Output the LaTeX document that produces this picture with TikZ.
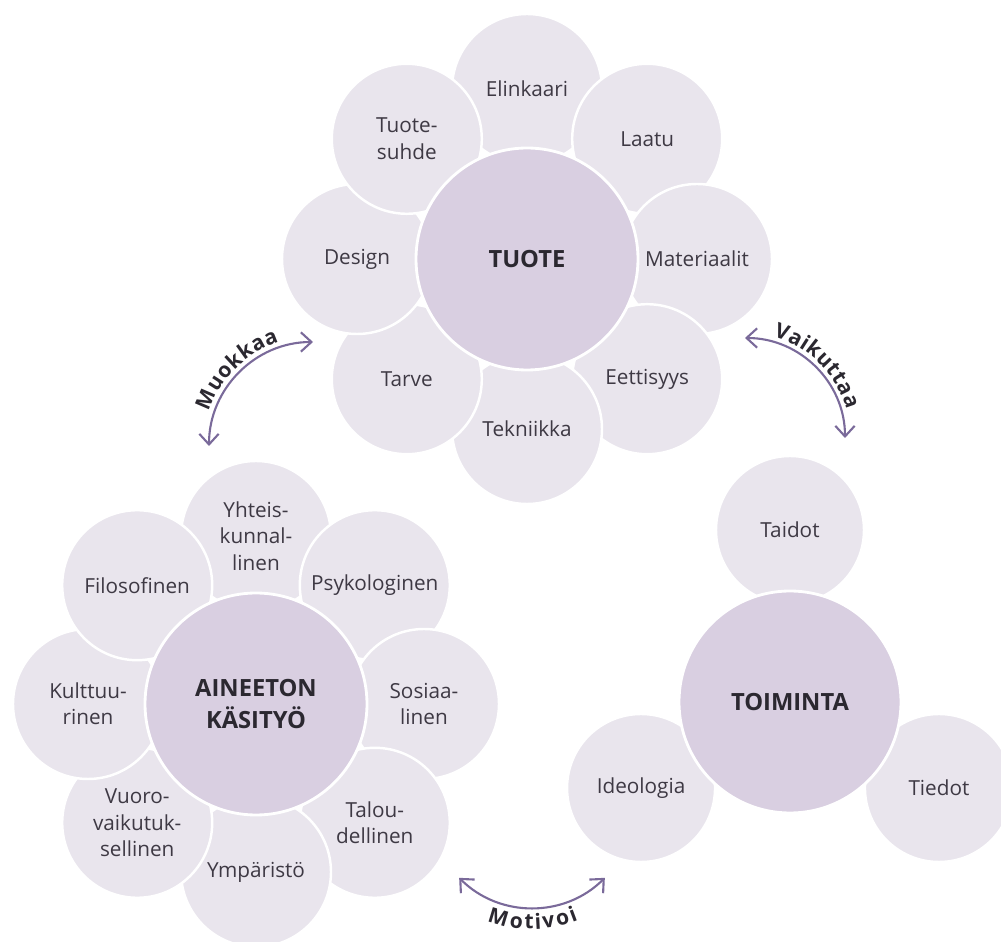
\documentclass[tikz,border=0pt]{standalone}
\usepackage{fontspec}
\setmainfont{Open Sans}
\usetikzlibrary{arrows,arrows.meta,decorations.text}
\definecolor{petalfill}{RGB}{233,229,237}
\definecolor{corefill}{RGB}{217,207,225}
\definecolor{inktext}{RGB}{62,57,68}
\definecolor{arrowline}{RGB}{122,106,154}

\begin{document}
\begin{tikzpicture}[line cap=round,line join=round,>={Straight Barb[length=6pt,width=11pt]},x=1cm,y=1cm,
  petal/.style={circle,fill=petalfill,draw=white,line width=1.4pt,minimum size=3cm,inner sep=0pt,align=center,text=inktext,font=\fontsize{11.8}{15}\selectfont},
  core/.style={circle,fill=corefill,draw=white,line width=1.6pt,minimum size=4.44cm,inner sep=0pt,align=center,text=inktext!70!black,font=\fontsize{13.5}{18.5}\selectfont\bfseries},
  linkarrow/.style={<->,draw=arrowline,line width=1.2pt}]
\useasboundingbox (0,0) rectangle (20.02,18.84);
% centres of the three flowers
\coordinate (tuote-c) at (10.54,13.66);
\coordinate (aineeton-c) at (5.12,4.76);
\coordinate (toiminta-c) at (15.8,4.8);
% TUOTE
\foreach \ang/\txt [count=\i] in {90/Elinkaari,45/Laatu,0/Materiaalit,-45/Eettisyys,-90/Tekniikka,-135/Tarve,180/Design,135/{Tuote-\\suhde}}
  \node[petal] (tuote-\i) at ([shift={(\ang:3.4)}]tuote-c) {\txt};
\node[core] (tuote) at (tuote-c) {TUOTE};
% AINEETON KASITYO
\foreach \ang/\txt [count=\i] in {90/{Yhteis-\\kunnal-\\linen},45/Psykologinen,0/{Sosiaa-\\linen},-45/{Talou-\\dellinen},-90/Ympäristö,-135/{Vuoro-\\vaikutuk-\\sellinen},180/{Kulttuu-\\rinen},135/Filosofinen}
  \node[petal] (aineeton-\i) at ([shift={(\ang:3.36)}]aineeton-c) {\txt};
\node[core] (aineeton) at (aineeton-c) {AINEETON\\KÄSITYÖ};
% TOIMINTA
\foreach \ang/\txt [count=\i] in {90/Taidot,210/Ideologia,330/Tiedot}
  \node[petal,minimum size=2.96cm] (toiminta-\i) at ([shift={(\ang:3.44)}]toiminta-c) {\txt};
\node[core] (toiminta) at (toiminta-c) {TOIMINTA};
% arrows between the flowers
\coordinate (muokkaa-c) at (6.26,9.92);
\coordinate (vaikuttaa-c) at (14.9,10.08);
\coordinate (motivoi-c) at (10.64,2.74);
\draw[linkarrow,postaction={decorate,decoration={text along path,text align=center,raise=3pt,text color=inktext!70!black,text={|\fontsize{12}{14}\selectfont\bfseries|Muokkaa}}}] ([shift={(180:2.08)}]muokkaa-c) arc (180:90:2.08);
\draw[linkarrow,postaction={decorate,decoration={text along path,text align=center,raise=3pt,text color=inktext!70!black,text={|\fontsize{12}{14}\selectfont\bfseries|Vaikuttaa}}}] ([shift={(90:2.0)}]vaikuttaa-c) arc (90:0:2.0);
\draw[linkarrow,postaction={decorate,decoration={text along path,text align=center,raise=-12pt,text color=inktext!70!black,text={|\fontsize{12}{14}\selectfont\bfseries|Motivoi}}}] ([shift={(225:2.06)}]motivoi-c) arc (225:315:2.06);
\end{tikzpicture}
\end{document}
